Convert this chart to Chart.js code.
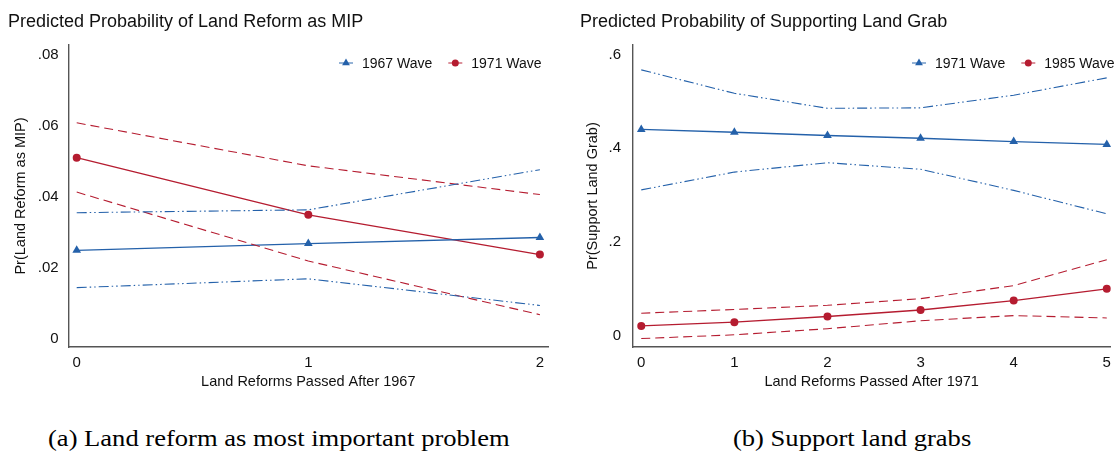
<!DOCTYPE html>
<html>
<head>
<meta charset="utf-8">
<script src="https://cdn.jsdelivr.net/npm/chart.js@4/dist/chart.umd.min.js"></script>
<style>
  body { margin: 0; background: #fff; width: 1118px; height: 456px; position: relative; overflow: hidden; }
  .panel { position: absolute; top: 0; }
  .caption { position: absolute; font-family: "Liberation Serif", "Times New Roman", serif; font-size: 23.5px; line-height: 1; color: #000; white-space: nowrap; transform: scaleX(1.13); transform-origin: left center; }
</style>
</head>
<body>
<div class="panel" style="left:0px"><canvas id="mip-chart" width="560" height="400"></canvas></div>
<div class="panel" style="left:572px"><canvas id="grab-chart" width="546" height="400"></canvas></div>
<div class="caption" style="left:48px;top:427px">(a) Land reform as most important problem</div>
<div class="caption" style="left:733px;top:427px">(b) Support land grabs</div>
<script>
// Panel (a): land reforms passed after 1967
const MIP_X = [0, 1, 2];
const MIP_X_LABELS = ["0", "1", "2"];
const MIP_Y_TICKS = [0, 0.02, 0.04, 0.06, 0.08];
const MIP_Y_LABELS = ["0", ".02", ".04", ".06", ".08"];
let mip_1967 = [0.0250, 0.0269, 0.0286];
let mip_1967_hi = [0.0356, 0.0364, 0.0477];
let mip_1967_lo = [0.0145, 0.0170, 0.0095];
let mip_1971 = [0.0511, 0.0350, 0.0238];
let mip_1971_hi = [0.0609, 0.0488, 0.0407];
let mip_1971_lo = [0.0414, 0.0220, 0.0069];

// Panel (b): land reforms passed after 1971
const GRAB_X = [0, 1, 2, 3, 4, 5];
const GRAB_X_LABELS = ["0", "1", "2", "3", "4", "5"];
const GRAB_Y_TICKS = [0, 0.2, 0.4, 0.6];
const GRAB_Y_LABELS = ["0", ".2", ".4", ".6"];
let grab_1971 = [0.440, 0.434, 0.427, 0.421, 0.414, 0.408];
let grab_1971_hi = [0.567, 0.517, 0.485, 0.486, 0.513, 0.550];
let grab_1971_lo = [0.311, 0.349, 0.369, 0.355, 0.310, 0.260];
let grab_1985 = [0.021, 0.029, 0.041, 0.055, 0.075, 0.100];
let grab_1985_hi = [0.048, 0.056, 0.065, 0.079, 0.107, 0.162];
let grab_1985_lo = [-0.006, 0.002, 0.015, 0.032, 0.043, 0.038];

const BLUE = "#2461aa";
const RED = "#b51c30";
const FONT = '"Liberation Sans", Arial, Helvetica, sans-serif';

Chart.defaults.font.family = FONT;
Chart.defaults.color = "#111";

// zip x positions and y values into points
function pts(xs, ys) {
  return xs.map((x, i) => ({ x: x, y: ys[i] }));
}

// solid estimate line with markers
function mainLine(label, xs, ys, color, marker, radius) {
  return {
    label: label, data: pts(xs, ys), inLegend: true,
    borderColor: color, borderWidth: 1.4,
    pointStyle: marker, pointRadius: radius, pointHoverRadius: radius,
    pointBackgroundColor: color, pointBorderColor: color, pointBorderWidth: 0
  };
}

// confidence bound line, no markers
function ciLine(label, xs, ys, color, dash) {
  return {
    label: label, data: pts(xs, ys), inLegend: false,
    borderColor: color, borderWidth: 1.1, borderDash: dash,
    pointRadius: 0, pointHoverRadius: 0
  };
}

// Stata style legend drawn inside the plot region
const waveLegend = {
  id: "waveLegend",
  afterDraw(chart, args, opts) {
    let ctx = chart.ctx;
    ctx.save();
    ctx.font = "14px " + FONT;
    ctx.textBaseline = "middle";
    let x = opts.x;
    let y = opts.y;
    chart.data.datasets.filter(d => d.inLegend).forEach(d => {
      ctx.strokeStyle = d.borderColor;
      ctx.globalAlpha = 0.75;
      ctx.lineWidth = 1.3;
      ctx.beginPath();
      ctx.moveTo(x, y);
      ctx.lineTo(x + 14, y);
      ctx.stroke();
      ctx.globalAlpha = 1;
      ctx.fillStyle = d.borderColor;
      Chart.helpers.drawPoint(ctx, { pointStyle: d.pointStyle, radius: d.pointRadius - 0.5, borderWidth: 0 }, x + 7, y);
      ctx.fillStyle = "#111";
      ctx.fillText(d.label, x + 23, y + 1);
      x += 23 + ctx.measureText(d.label).width + 16;
    });
    ctx.restore();
  }
};

function buildChart(id, cfg) {
  let ctx = document.getElementById(id).getContext("2d");
  return new Chart(ctx, {
    type: "line",
    data: { datasets: cfg.datasets },
    plugins: [waveLegend],
    options: {
      responsive: false,
      animation: false,
      layout: { padding: { left: 8, right: cfg.padRight, top: 0, bottom: 9 } },
      plugins: {
        legend: { display: false },
        tooltip: { enabled: false },
        title: {
          display: true, text: cfg.title, align: "start", color: "#111",
          font: { size: 18, weight: "normal" },
          padding: { top: 11, bottom: 12.4 }
        },
        waveLegend: { x: cfg.legendX, y: 63 }
      },
      scales: {
        x: {
          type: "linear", min: cfg.xMin, max: cfg.xMax,
          afterBuildTicks: s => { s.ticks = cfg.xTicks.map(v => ({ value: v })); },
          afterFit: s => { s.height = 44; },
          ticks: {
            padding: 7, font: { size: 15 }, color: "#111", maxRotation: 0,
            callback: (v, i) => cfg.xLabels[i]
          },
          grid: { display: true, drawOnChartArea: false, drawTicks: false },
          border: { display: true, color: "#555", width: 1.4 },
          title: {
            display: true, text: cfg.xTitle, color: "#111",
            font: { size: 14.5 }, padding: { top: 0, bottom: 0 }
          }
        },
        y: {
          type: "linear", min: cfg.yMin, max: cfg.yMax,
          afterBuildTicks: s => { s.ticks = cfg.yTicks.map(v => ({ value: v })); },
          afterFit: s => { s.width = cfg.yWidth; },
          ticks: {
            padding: cfg.yPad, font: { size: 15 }, color: "#111",
            callback: (v, i) => cfg.yLabels[i]
          },
          grid: { display: true, drawOnChartArea: false, drawTicks: false },
          border: { display: true, color: "#555", width: 1.4 },
          title: {
            display: true, text: cfg.yTitle, color: "#111",
            font: { size: 14.5 }, padding: { top: 4, bottom: 0 }
          }
        }
      }
    }
  });
}

const BLUE_DASH = [10, 3, 1.5, 3, 1.5, 3];
const RED_DASH = [9, 5];

let mip_chart = buildChart("mip-chart", {
  title: "Predicted Probability of Land Reform as MIP",
  xTitle: "Land Reforms Passed After 1967",
  yTitle: "Pr(Land Reform as MIP)",
  xMin: -0.035, xMax: 2.035, xTicks: MIP_X, xLabels: MIP_X_LABELS,
  yMin: -0.0022, yMax: 0.0828, yTicks: MIP_Y_TICKS, yLabels: MIP_Y_LABELS,
  yWidth: 60.6, yPad: 10, padRight: 12, legendX: 339,
  datasets: [
    ciLine("1967 upper", MIP_X, mip_1967_hi, BLUE, BLUE_DASH),
    ciLine("1967 lower", MIP_X, mip_1967_lo, BLUE, BLUE_DASH),
    ciLine("1971 upper", MIP_X, mip_1971_hi, RED, RED_DASH),
    ciLine("1971 lower", MIP_X, mip_1971_lo, RED, RED_DASH),
    mainLine("1967 Wave", MIP_X, mip_1967, BLUE, "triangle", 5),
    mainLine("1971 Wave", MIP_X, mip_1971, RED, "circle", 4)
  ]
});

let grab_chart = buildChart("grab-chart", {
  title: "Predicted Probability of Supporting Land Grab",
  xTitle: "Land Reforms Passed After 1971",
  yTitle: "Pr(Support Land Grab)",
  xMin: -0.094, xMax: 5.044, xTicks: GRAB_X, xLabels: GRAB_X_LABELS,
  yMin: -0.024, yMax: 0.62, yTicks: GRAB_Y_TICKS, yLabels: GRAB_Y_LABELS,
  yWidth: 52.5, yPad: 11.5, padRight: 1, legendX: 340,
  datasets: [
    ciLine("1971 upper", GRAB_X, grab_1971_hi, BLUE, BLUE_DASH),
    ciLine("1971 lower", GRAB_X, grab_1971_lo, BLUE, BLUE_DASH),
    ciLine("1985 upper", GRAB_X, grab_1985_hi, RED, RED_DASH),
    ciLine("1985 lower", GRAB_X, grab_1985_lo, RED, RED_DASH),
    mainLine("1971 Wave", GRAB_X, grab_1971, BLUE, "triangle", 5),
    mainLine("1985 Wave", GRAB_X, grab_1985, RED, "circle", 4)
  ]
});
</script>
</body>
</html>
